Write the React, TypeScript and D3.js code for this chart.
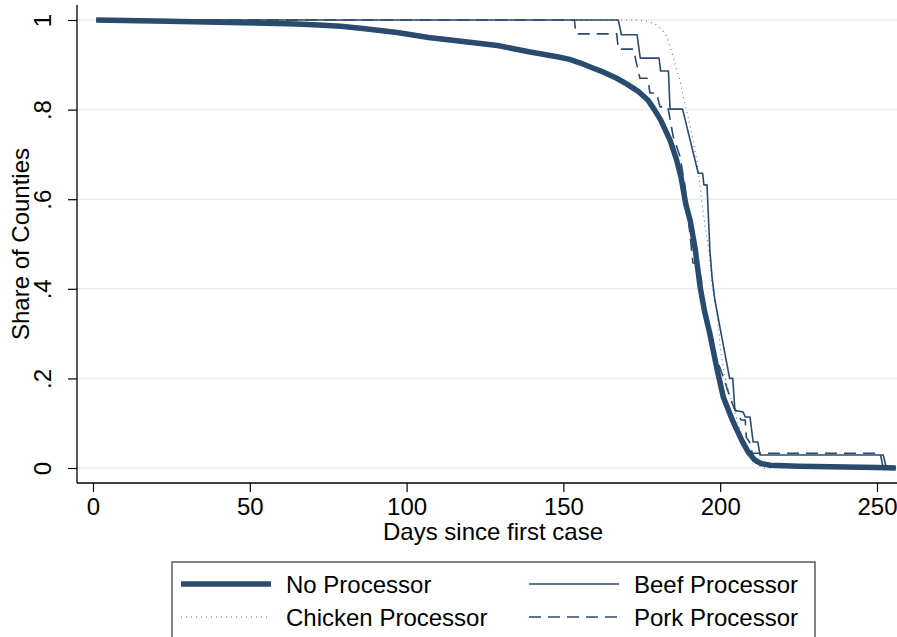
import { useEffect, useRef } from 'react';
import * as d3 from 'd3';

type Pt = [number, number];

// [day, share of counties]
const noProcessor: Pt[] = [
    [1, 1], [10, 0.999], [24, 0.997], [40, 0.995], [55, 0.993], [65, 0.991], [72, 0.989],
    [79, 0.986], [86, 0.981], [97, 0.972], [107, 0.961], [118, 0.952], [129, 0.943], [139, 0.929],
    [148, 0.918], [152, 0.912], [155, 0.905], [159, 0.894], [163, 0.883], [167, 0.87],
    [170, 0.858], [174, 0.84], [177, 0.821], [179, 0.8], [181, 0.777], [184, 0.732],
    [186, 0.69], [187.5, 0.65], [189, 0.59], [190.5, 0.55], [192, 0.49], [193.6, 0.404],
    [195, 0.35], [196.7, 0.3], [199, 0.22], [201, 0.158], [204, 0.105], [207, 0.06],
    [209, 0.035], [211, 0.018], [213, 0.01], [216, 0.006], [225, 0.004], [240, 0.002],
    [250, 0.001], [256, 0]
];

const chickenProcessor: Pt[] = [
    [1, 1], [174, 1], [177, 0.997], [179.7, 0.989], [181.5, 0.978], [183, 0.963],
    [184, 0.94], [185, 0.918], [186, 0.89], [187.2, 0.866], [188, 0.835], [189.3, 0.799],
    [190.9, 0.747], [192.5, 0.688], [193.6, 0.628], [194.6, 0.569], [195.7, 0.516],
    [196.5, 0.48], [197.5, 0.404], [199, 0.346], [200, 0.27], [201.5, 0.203],
    [203.5, 0.152], [206, 0.092], [208.5, 0.04], [211, 0.011], [213, 0.003], [214, 0], [216, 0]
];

const beefProcessor: Pt[] = [
    [1, 1], [167.5, 1], [168.5, 0.967], [173.5, 0.967], [174.5, 0.915], [180.5, 0.915],
    [181, 0.886], [183.5, 0.886], [184, 0.801], [188, 0.801], [193, 0.658], [194.4, 0.658],
    [194.8, 0.632], [195.8, 0.632], [196.7, 0.487], [197.4, 0.426], [198.3, 0.375],
    [199.9, 0.315], [203, 0.2], [204, 0.2], [204.7, 0.129], [207.3, 0.125], [208, 0.114],
    [209.5, 0.114], [210.5, 0.058], [212, 0.058], [212.7, 0.029], [252, 0.029], [253, 0], [256, 0]
];

const porkProcessor: Pt[] = [
    [1, 1], [153.5, 1], [154, 0.969], [167, 0.969], [167.5, 0.935], [172.3, 0.935],
    [174.4, 0.87], [176.9, 0.87], [177.6, 0.837], [179.7, 0.837], [180.8, 0.806],
    [183.3, 0.806], [185, 0.74], [187.2, 0.695], [188.8, 0.628], [191.3, 0.458],
    [193, 0.455], [194, 0.42], [195.2, 0.33], [196.8, 0.286], [199, 0.241], [201, 0.203],
    [202.7, 0.167], [204.3, 0.136], [206.7, 0.107], [208, 0.107], [208.3, 0.069],
    [209.5, 0.056], [210.2, 0.033], [251, 0.033], [252, 0], [256, 0]
];

const seriesNames = ['No Processor', 'Beef Processor', 'Chicken Processor', 'Pork Processor'];
const seriesValues = [noProcessor, beefProcessor, chickenProcessor, porkProcessor];

const xTicks = [0, 50, 100, 150, 200, 250];
const yTicks = [0, 0.2, 0.4, 0.6, 0.8, 1];
const yTickLabels = ['0', '.2', '.4', '.6', '.8', '1'];

const xTitle = 'Days since first case';
const yTitle = 'Share of Counties';

const W = 897;
const H = 637;
const FONT = '"Liberation Sans", Arial, sans-serif';
const NAVY = '#284b6e';

const lineStyles: Record<string, { width: number; dash: string | null; opacity: number }> = {
    'No Processor': { width: 5.5, dash: null, opacity: 1 },
    'Beef Processor': { width: 1.6, dash: null, opacity: 1 },
    'Chicken Processor': { width: 1.1, dash: '1 4', opacity: 0.8 },
    'Pork Processor': { width: 1.6, dash: '12 7', opacity: 1 }
};

const App = () => {
    const svgRef = useRef<SVGSVGElement>(null);

    useEffect(() => {
        const svg = d3.select(svgRef.current);
        svg.selectAll('*').remove();

        const left = 77, right = W, top = 5, bottom = 483;

        const x = d3.scaleLinear().domain([0, 250]).range([93, 877]);
        const y = d3.scaleLinear().domain([0, 1]).range([468, 20]);

        svg.append('rect').attr('width', W).attr('height', H).attr('fill', '#fff');

        // grid
        svg.append('g')
            .selectAll('line')
            .data(yTicks)
            .join('line')
            .attr('x1', left)
            .attr('x2', right)
            .attr('y1', d => y(d))
            .attr('y2', d => y(d))
            .attr('stroke', '#e6eef0')
            .attr('stroke-width', 1.5);

        // series
        const line = d3.line<Pt>().x(d => x(d[0])).y(d => y(d[1]));
        seriesNames.forEach((name, i) => {
            const st = lineStyles[name];
            svg.append('path')
                .attr('d', line(seriesValues[i]))
                .attr('fill', 'none')
                .attr('stroke', NAVY)
                .attr('stroke-width', st.width)
                .attr('stroke-opacity', st.opacity)
                .attr('stroke-dasharray', st.dash)
                .attr('stroke-linejoin', 'round');
        });

        // y axis
        const yAxis = svg.append('g')
            .attr('transform', `translate(${left},0)`)
            .call(d3.axisLeft(y).tickValues(yTicks).tickSize(9).tickSizeOuter(0)
                .tickFormat((d, i) => yTickLabels[i]));
        yAxis.select('.domain').remove();
        yAxis.selectAll('line').attr('stroke', '#000').attr('stroke-width', 1.2);
        yAxis.selectAll('text')
            .attr('transform', 'rotate(-90)')
            .attr('x', 0)
            .attr('y', -26)
            .attr('dy', 0)
            .attr('text-anchor', 'middle')
            .attr('fill', '#000')
            .style('font-family', FONT)
            .style('font-size', '24px');

        // x axis
        const xAxis = svg.append('g')
            .attr('transform', `translate(0,${bottom})`)
            .call(d3.axisBottom(x).tickValues(xTicks).tickSize(9).tickSizeOuter(0));
        xAxis.select('.domain').remove();
        xAxis.selectAll('line').attr('stroke', '#000').attr('stroke-width', 1.2);
        xAxis.selectAll('text')
            .attr('y', 32)
            .attr('dy', 0)
            .attr('fill', '#000')
            .style('font-family', FONT)
            .style('font-size', '24px');

        // axis lines
        svg.append('line').attr('x1', left).attr('x2', left).attr('y1', top).attr('y2', bottom)
            .attr('stroke', '#000').attr('stroke-width', 1.3);
        svg.append('line').attr('x1', left).attr('x2', right).attr('y1', bottom).attr('y2', bottom)
            .attr('stroke', '#000').attr('stroke-width', 1.3);

        // titles
        svg.append('text')
            .attr('x', 493)
            .attr('y', 540)
            .attr('text-anchor', 'middle')
            .style('font-family', FONT)
            .style('font-size', '24px')
            .text(xTitle);

        svg.append('text')
            .attr('transform', `translate(29,${(top + bottom) / 2}) rotate(-90)`)
            .attr('text-anchor', 'middle')
            .style('font-family', FONT)
            .style('font-size', '24px')
            .text(yTitle);

        // legend
        const legend = svg.append('g');
        legend.append('rect')
            .attr('x', 172)
            .attr('y', 562)
            .attr('width', 643)
            .attr('height', 110)
            .attr('fill', '#fff')
            .attr('stroke', '#333')
            .attr('stroke-width', 1.2);

        const colX = [181, 529];
        const rowY = [584, 617];
        seriesNames.forEach((name, i) => {
            const st = lineStyles[name];
            const cx = colX[i % 2];
            const cy = rowY[Math.floor(i / 2)];
            legend.append('line')
                .attr('x1', cx)
                .attr('x2', cx + 90)
                .attr('y1', cy)
                .attr('y2', cy)
                .attr('stroke', NAVY)
                .attr('stroke-width', st.width)
                .attr('stroke-opacity', st.opacity)
                .attr('stroke-dasharray', st.dash);
            legend.append('text')
                .attr('x', cx + 105)
                .attr('y', cy + 8.5)
                .style('font-family', FONT)
                .style('font-size', '24px')
                .text(name);
        });
    }, []);

    return (
        <svg
            ref={svgRef}
            width={W}
            height={H}
            viewBox={`0 0 ${W} ${H}`}
            style={{ position: 'absolute', left: 0, top: 0, display: 'block' }}
        />
    );
};

export default App;
